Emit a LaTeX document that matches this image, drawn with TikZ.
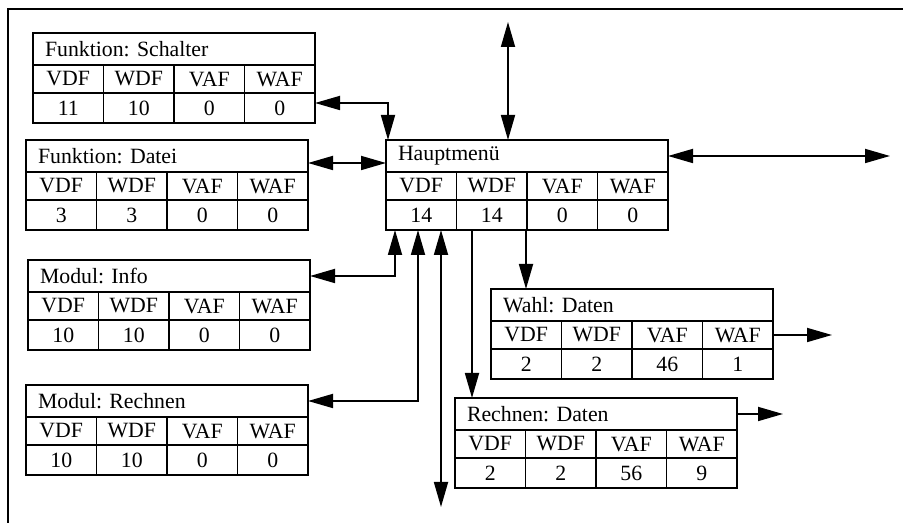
\documentclass[tikz,border=0pt]{standalone}
\usepackage{fontspec}
\setmainfont{Liberation Serif}
\usetikzlibrary{positioning, arrows.meta}
\frenchspacing

\tikzset{
  titel/.style={rectangle, anchor=north west, minimum width=5.64cm, minimum height=0.64cm,
    text width=5.16cm, inner xsep=0.24cm, inner ysep=0pt, outer sep=0pt, align=left},
  kopf/.style={rectangle, draw, line width=0.6pt, minimum width=1.41cm, minimum height=0.56cm,
    inner sep=0pt, outer sep=0pt},
  wert/.style={kopf, minimum height=0.6cm},
  rahmen/.style={line width=1.6pt},
  trenn/.style={line width=1.1pt},
  spitze/.tip={Triangle[length=0.5cm, width=0.28cm]},
  pfeil/.style={line width=1pt, spitze-spitze},
  pfeilab/.style={line width=1pt, -spitze},
}

% Tabelle: Name, Position, Titel, VDF, WDF, VAF, WAF
\newcommand{\tabelle}[7]{%
  \node[titel] (#1) at (#2) {#3};
  \node[kopf, anchor=north west] (#1-h1) at (#1.south west) {VDF};
  \node[kopf, right=0pt of #1-h1] (#1-h2) {WDF};
  \node[kopf, right=0pt of #1-h2] (#1-h3) {VAF};
  \node[kopf, right=0pt of #1-h3] (#1-h4) {WAF};
  \node[wert, below=0pt of #1-h1] (#1-w1) {#4};
  \node[wert, below=0pt of #1-h2] (#1-w2) {#5};
  \node[wert, below=0pt of #1-h3] (#1-w3) {#6};
  \node[wert, below=0pt of #1-h4] (#1-w4) {#7};
  \draw[trenn] (#1.south west) -- (#1.south east);
  \draw[trenn] (#1-h2.north east) -- (#1-w2.south east);
  \draw[rahmen] (#1.north west) rectangle (#1-w4.south east);
}

\begin{document}
\begin{tikzpicture}[font=\fontsize{12.4}{14}\selectfont]
  \useasboundingbox (0,0) rectangle (18.06,-10.46);
  % Rand
  \draw[line width=1.2pt] (18.06,-0.18) -| (0.16,-10.46);

  % --- TABELLEN ---
  \tabelle{schalter}{0.66,-0.66}{Funktion: Schalter}{11}{10}{0}{0}
  \tabelle{datei}{0.52,-2.80}{Funktion: Datei}{3}{3}{0}{0}
  \tabelle{info}{0.56,-5.20}{Modul: Info}{10}{10}{0}{0}
  \tabelle{modrechnen}{0.52,-7.70}{Modul: Rechnen}{10}{10}{0}{0}
  \tabelle{haupt}{7.72,-2.80}{Hauptmenü}{14}{14}{0}{0}
  \tabelle{wahl}{9.82,-5.78}{Wahl: Daten}{2}{2}{46}{1}
  \tabelle{rdaten}{9.10,-7.96}{Rechnen: Daten}{2}{2}{56}{9}

  % --- FREIE ENDEN ---
  \coordinate (oben) at (10.16,-0.44);
  \coordinate (rechts) at (17.80,-3.12);
  \coordinate (unten) at (0,-10.14);
  \coordinate (wahlaus) at (16.64,-6.70);
  \coordinate (rdatenaus) at (15.66,-8.28);

  \coordinate (auf1) at ([xshift=0.18cm]haupt-w1.south west);
  \coordinate (auf2) at ([xshift=0.64cm]haupt-w1.south west);
  \coordinate (auf3) at ([xshift=1.10cm]haupt-w1.south west);
  \coordinate (ab1) at ([xshift=0.70cm]wahl.north west);
  \coordinate (ab2) at ([xshift=0.34cm]rdaten.north west);

  % --- VERBINDUNGEN ---
  \draw[pfeil] ([yshift=0.1cm]schalter-w4.east) -| ([xshift=0.04cm]haupt.north west);
  \draw[pfeil] ([yshift=-0.14cm]datei.east) -- ([yshift=-0.14cm]haupt.west);
  \draw[pfeil] (oben) -- (oben |- haupt.north);
  \draw[pfeil] (haupt.east) -- (rechts);

  \draw[pfeil] (auf1) |- (info.east);
  \draw[pfeil] (auf2) |- (modrechnen.east);
  \draw[pfeil] (auf3) -- (auf3 |- unten);
  \draw[pfeilab] (ab2 |- haupt-w1.south) -- (ab2);
  \draw[pfeilab] (ab1 |- haupt-w1.south) -- (ab1);

  \draw[pfeilab] (wahl-h4.east) -- (wahlaus);
  \draw[pfeilab] (rdaten.east) -- (rdatenaus);
\end{tikzpicture}
\end{document}
